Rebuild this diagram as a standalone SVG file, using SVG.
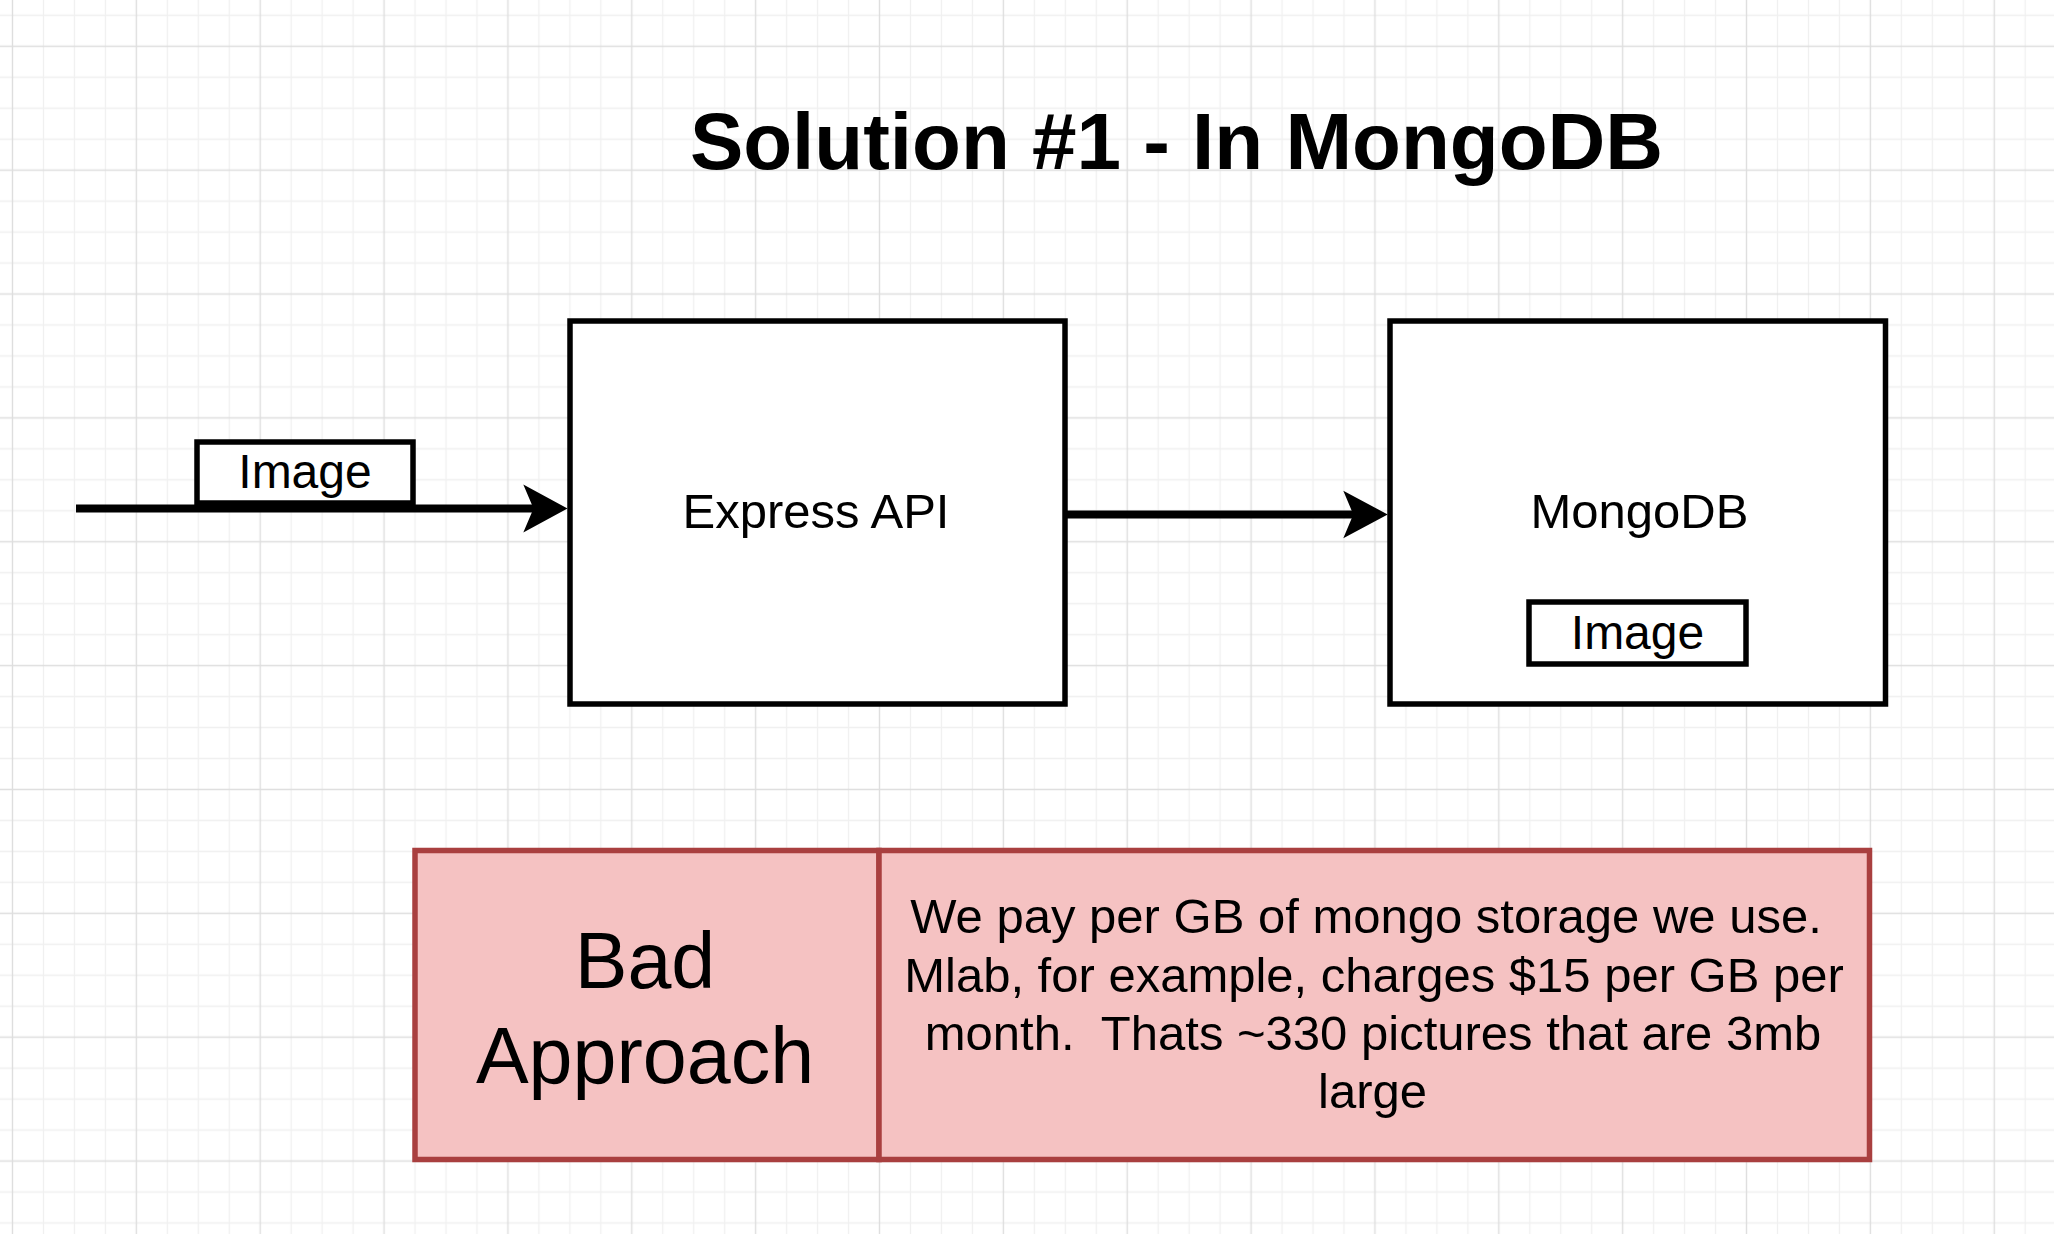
<svg xmlns="http://www.w3.org/2000/svg" width="2054" height="1234" viewBox="0 0 2054 1234">
  <defs>
    <pattern id="grid" patternUnits="userSpaceOnUse" x="-2.98" y="30.82" width="123.86" height="123.86">
      <path d="M46.45 0V123.86M77.41 0V123.86M108.38 0V123.86M0 46.45H123.86M0 77.41H123.86M0 108.38H123.86" stroke="#f0f0f0" stroke-width="1.3" fill="none"/>
      <path d="M15.48 0V123.86M0 15.48H123.86" stroke="#dedede" stroke-width="1.4" fill="none"/>
    </pattern>
    <style>
      .box { fill: #ffffff; stroke: #000000; stroke-width: 5.5; }
      .lbl { font-family: "Liberation Sans", Arial, Helvetica, sans-serif; fill: #000000; text-anchor: middle; }
      .edge { stroke: #000000; stroke-width: 8; fill: none; }
      .head { fill: #000000; stroke: none; }
      .red { fill: #f5c2c2; stroke: #a93f3f; stroke-width: 5.5; }
    </style>
  </defs>

  <rect x="0" y="0" width="2054" height="1234" fill="#ffffff"/>
  <rect x="0" y="0" width="2054" height="1234" fill="url(#grid)"/>

  <g id="title">
    <text class="lbl" x="1176.5" y="169" font-size="80" font-weight="bold">Solution #1 - In MongoDB</text>
  </g>

  <g id="connectors">
    <line class="edge" x1="76" y1="508.5" x2="536" y2="508.5"/>
    <polygon class="head" points="567.5,508.5 523.3,484.5 533.5,508.5 523.3,532.5"/>
    <line class="edge" x1="1065" y1="514.5" x2="1356" y2="514.5"/>
    <polygon class="head" points="1387.7,514.5 1343.3,490.7 1353.3,514.5 1343.3,538.3"/>
  </g>

  <g id="image-label">
    <rect class="box" x="197" y="442" width="216" height="61"/>
    <text class="lbl" x="305" y="488" font-size="48">Image</text>
  </g>

  <g id="express-api">
    <rect class="box" x="570" y="321" width="495" height="383"/>
    <text class="lbl" x="816" y="528" font-size="49">Express API</text>
  </g>

  <g id="mongodb">
    <rect class="box" x="1390" y="321" width="495.5" height="383"/>
    <text class="lbl" x="1639.5" y="527.5" font-size="49">MongoDB</text>
    <g id="mongodb-image">
      <rect class="box" x="1529" y="602" width="217" height="62"/>
      <text class="lbl" x="1637.5" y="649" font-size="48">Image</text>
    </g>
  </g>

  <g id="bad-approach">
    <rect class="red" x="415" y="850.5" width="464" height="309"/>
    <text class="lbl" x="645" y="988" font-size="79">Bad</text>
    <text class="lbl" x="645" y="1083" font-size="79">Approach</text>
  </g>

  <g id="cost-note">
    <rect class="red" x="879" y="850.5" width="990.5" height="309"/>
    <text class="lbl" font-size="49" xml:space="preserve"><tspan x="1366" y="933">We pay per GB of mongo storage we use.</tspan><tspan x="1374" y="991.7">Mlab, for example, charges $15 per GB per</tspan><tspan x="1373" y="1050">month.  Thats ~330 pictures that are 3mb</tspan><tspan x="1372.5" y="1108.3">large</tspan></text>
  </g>
</svg>
